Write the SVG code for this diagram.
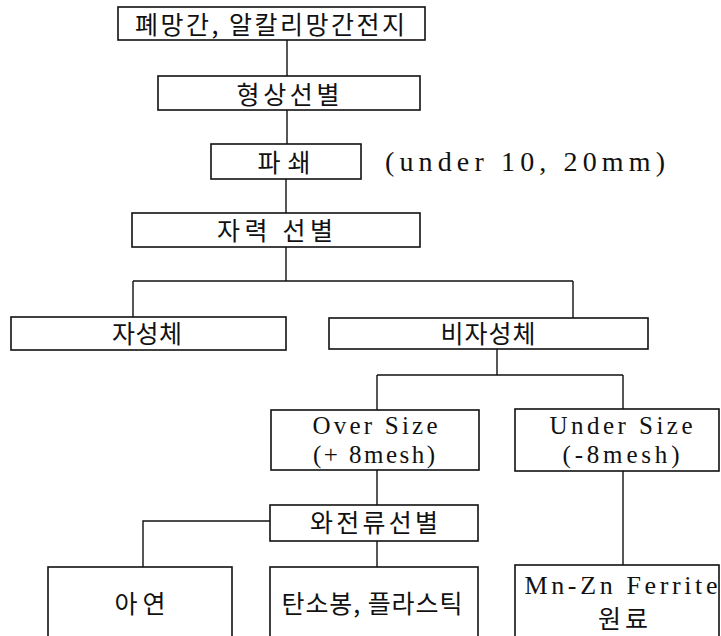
<svg xmlns="http://www.w3.org/2000/svg" width="721" height="636" viewBox="0 0 721 636">
<style>
.box{fill:#fff;stroke:#111;stroke-width:1.6}
.ln{fill:none;stroke:#111;stroke-width:1.4}
.k{font-family:"Noto Sans CJK KR","Noto Sans",sans-serif;font-size:25px;fill:#111;text-anchor:middle;dominant-baseline:central}
.e{font-family:"Liberation Serif","Noto Sans CJK KR",serif;font-size:26px;fill:#111;text-anchor:middle;dominant-baseline:central}
.e2{font-size:25px}
</style>
<rect width="721" height="636" fill="#fff"/>
<g id="connectors">
<path class="ln" d="M287 40V76M287 110V144M286 179V213M286 247V281M133 281H573M133 281V317M573 281V318"/>
<path class="ln" d="M497 349V375M377 375H623M377 375V410M623 375V409"/>
<path class="ln" d="M377 470V505M270 521H143V567M377 541V567M623 471V565"/>
</g>
<g id="n1"><rect class="box" x="118" y="7" width="307" height="33"/><text class="k" x="270" y="23" textLength="270" lengthAdjust="spacing">폐망간, 알칼리망간전지</text></g>
<g id="n2"><rect class="box" x="158" y="76" width="262" height="34"/><text class="k" x="288" y="93" textLength="103" lengthAdjust="spacing">형상선별</text></g>
<g id="n3"><rect class="box" x="211" y="144" width="150" height="35"/><text class="k" x="284" y="161" textLength="53" lengthAdjust="spacing">파쇄</text></g>
<text id="note" class="e" x="525" y="161" textLength="280" lengthAdjust="spacing" style="font-size:28px">(under 10, 20mm)</text>
<g id="n4"><rect class="box" x="132" y="213" width="288" height="34"/><text class="k" x="275" y="229" textLength="116" lengthAdjust="spacing">자력 선별</text></g>
<g id="n5"><rect class="box" x="11" y="317" width="275" height="33"/><text class="k" x="147" y="332" textLength="70" lengthAdjust="spacing">자성체</text></g>
<g id="n6"><rect class="box" x="329" y="318" width="319" height="31"/><text class="k" x="488" y="332" textLength="95" lengthAdjust="spacing">비자성체</text></g>
<g id="n7"><rect class="box" x="271" y="410" width="208" height="60"/><text class="e e2" x="375" y="425" textLength="125" lengthAdjust="spacing">Over Size</text><text class="e e2" x="374" y="454" textLength="122" lengthAdjust="spacing">(+ 8mesh)</text></g>
<g id="n8"><rect class="box" x="515" y="409" width="204" height="62"/><text class="e e2" x="621" y="425" textLength="143" lengthAdjust="spacing">Under Size</text><text class="e e2" x="621" y="454" textLength="117" lengthAdjust="spacing">(-8mesh)</text></g>
<g id="n9"><rect class="box" x="270" y="505" width="208" height="36"/><text class="k" x="374" y="521" textLength="128" lengthAdjust="spacing">와전류선별</text></g>
<g id="n10"><rect class="box" x="48" y="567" width="184" height="80"/><text class="k" x="140" y="602" textLength="51" lengthAdjust="spacing">아연</text></g>
<g id="n11"><rect class="box" x="270" y="567" width="208" height="80"/><text class="k" x="372" y="602" textLength="181" lengthAdjust="spacing">탄소봉, 플라스틱</text></g>
<g id="n12"><rect class="box" x="515" y="565" width="204" height="80"/><text class="e" x="621" y="585" textLength="193" lengthAdjust="spacing">Mn-Zn Ferrite</text><text class="k" x="623" y="617" textLength="50" lengthAdjust="spacing">원료</text></g>
</svg>
